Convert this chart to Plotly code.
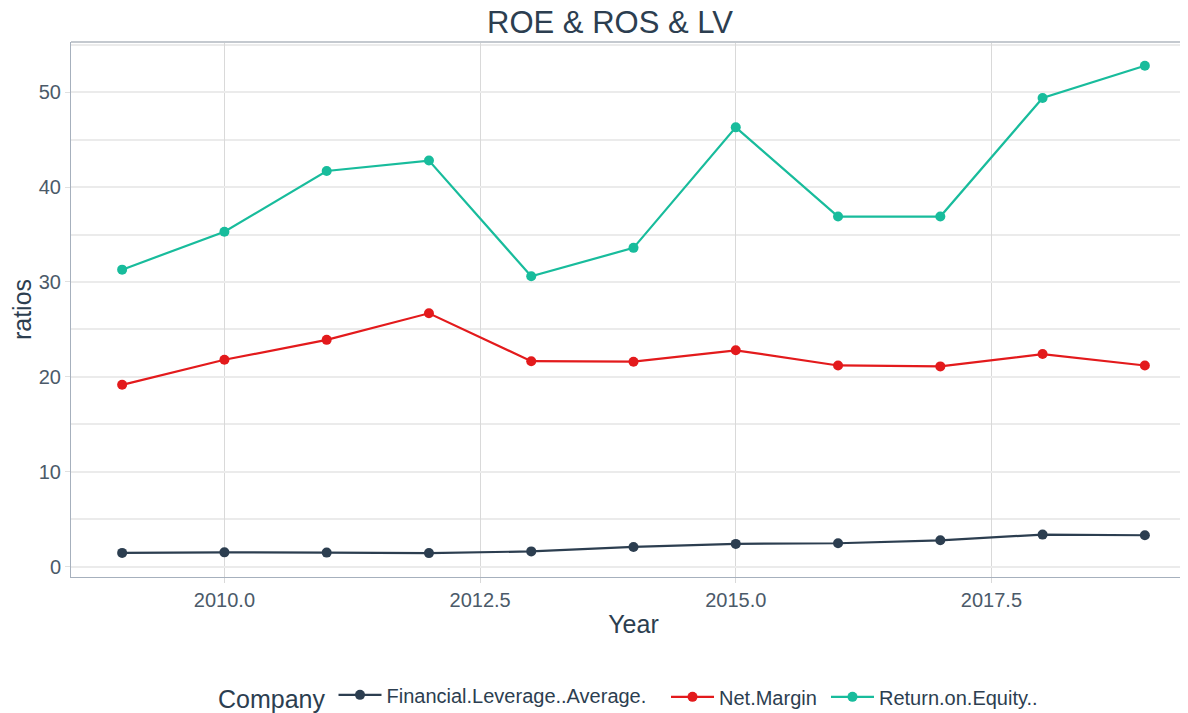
import plotly.graph_objects as go

years = [2009, 2010, 2011, 2012, 2013, 2014, 2015, 2016, 2017, 2018, 2019]
leverage = [1.44, 1.5, 1.47, 1.42, 1.6, 2.07, 2.39, 2.46, 2.77, 3.37, 3.3]
net_margin = [19.16, 21.8, 23.9, 26.7, 21.65, 21.6, 22.8, 21.2, 21.1, 22.4, 21.2]
roe = [31.3, 35.3, 41.7, 42.8, 30.6, 33.6, 46.3, 36.9, 36.9, 49.4, 52.8]

series_names = ["Financial.Leverage..Average.", "Net.Margin", "Return.on.Equity.."]
series_values = [leverage, net_margin, roe]
colors = ["#2c3e50", "#e31a1c", "#18bc9c"]
legend_ids = ["legend", "legend2", "legend3"]

FONT = "Liberation Sans, Arial, Helvetica, sans-serif"
TXT = "#2c3e50"
TICK = "#4b5a69"

fig = go.Figure()
for name, vals, c, lg in zip(series_names, series_values, colors, legend_ids):
    fig.add_trace(go.Scatter(
        x=years, y=vals, name=name, mode="lines+markers",
        line=dict(color=c, width=2.2),
        marker=dict(color=c, size=10),
        legend=lg,
    ))

leg_common = dict(orientation="h", xanchor="left", y=-0.224, yanchor="middle",
                  font=dict(size=20, color=TXT), bgcolor="rgba(0,0,0,0)", itemwidth=43)

fig.update_layout(
    width=1188, height=713,
    paper_bgcolor="white", plot_bgcolor="white",
    margin=dict(l=63, r=0, t=34, b=144, autoexpand=False),
    font=dict(family=FONT, color=TXT),
    title=dict(text="ROE & ROS & LV", x=0.5067, xref="container", xanchor="center",
               y=0.980, yref="container", yanchor="middle",
               font=dict(size=31, color=TXT, family=FONT)),
    showlegend=True,
    legend=dict(x=0.1289, title=dict(text="Company", font=dict(size=25, color=TXT)), **leg_common),
    legend2=dict(x=0.5289, **leg_common),
    legend3=dict(x=0.6711, **leg_common),
)

fig.update_xaxes(
    range=[2008.5, 2019.5], tick0=2010, dtick=2.5, tickformat=".1f",
    showgrid=True, gridcolor="#d9d9d9", gridwidth=1,
    showline=True, linecolor="#a6b0bd", linewidth=1, mirror=False,
    ticks="outside", ticklen=5, tickcolor="#d9d9d9",
    tickfont=dict(size=20, color=TICK),
    title=dict(text="Year", font=dict(size=25, color=TXT), standoff=5),
    zeroline=False, automargin=False,
)
fig.update_yaxes(
    range=[-1.1, 55.3], tick0=0, dtick=10,
    showgrid=True, gridcolor="#ebebeb", gridwidth=2,
    minor=dict(dtick=5, tick0=0, showgrid=True, gridcolor="#ebebeb", gridwidth=1.5),
    showline=True, linecolor="#a6b0bd", linewidth=1,
    ticks="outside", ticklen=5, tickcolor="#e0e0e0",
    tickfont=dict(size=20, color=TICK),
    title=dict(text="ratios", font=dict(size=25, color=TXT), standoff=10),
    zeroline=False, automargin=False,
)

# top border line
fig.add_shape(type="line", xref="paper", yref="paper", x0=0, x1=1, y0=1, y1=1,
              line=dict(color="#c4c9cf", width=2))

fig.write_html("out.html")
